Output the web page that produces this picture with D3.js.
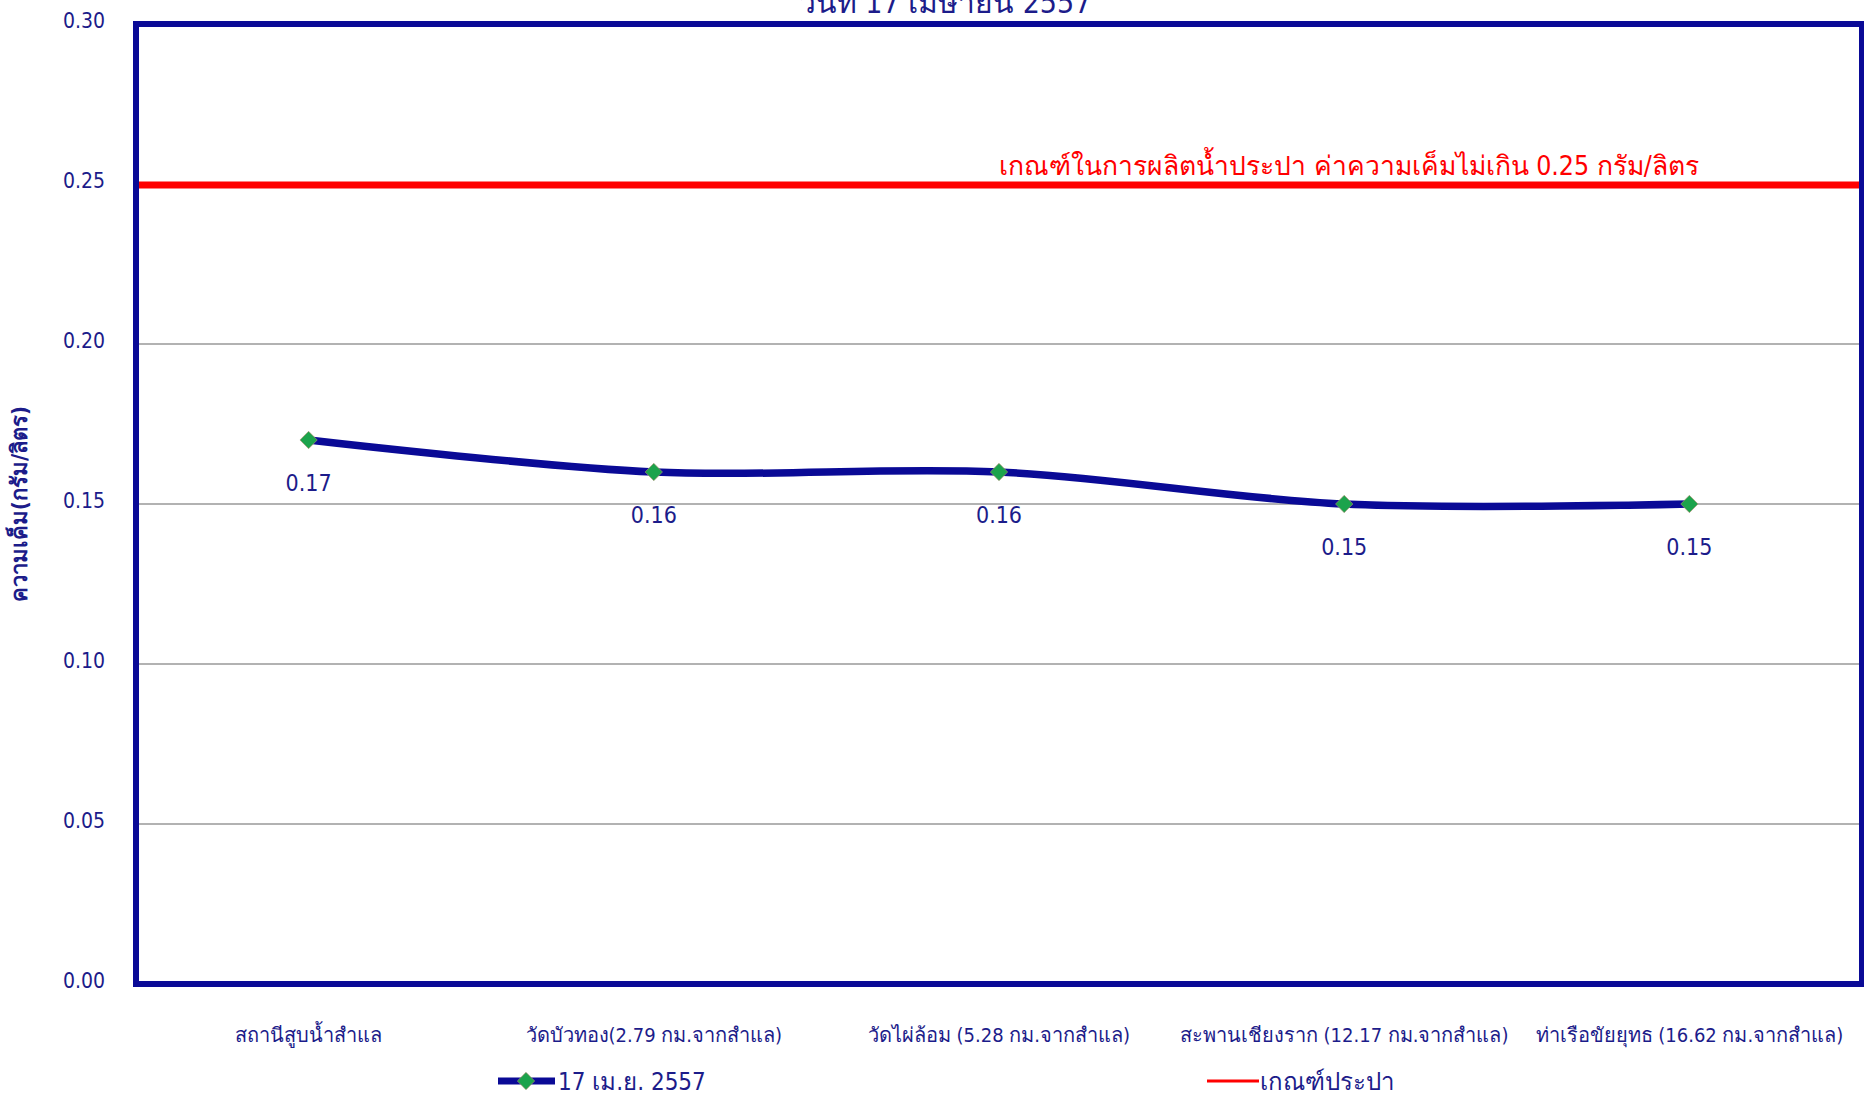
<!DOCTYPE html>
<html>
<head>
<meta charset="utf-8">
<script src="https://cdn.jsdelivr.net/npm/d3@7"></script>
<style>
    body { margin: 0; background: #fff; }
    text { font-family: "DejaVu Sans Condensed", "DejaVu Sans", sans-serif; }
</style>
</head>
<body>
<div id="chart"></div>
<script>
var chartTitle = "วันที่ 17 เมษายน 2557";
var yTitle = "ความเค็ม(กรัม/ลิตร)";
var categories = [
    "สถานีสูบน้ำสำแล",
    "วัดบัวทอง(2.79 กม.จากสำแล)",
    "วัดไผ่ล้อม (5.28 กม.จากสำแล)",
    "สะพานเชียงราก (12.17 กม.จากสำแล)",
    "ท่าเรือขัยยุทธ (16.62 กม.จากสำแล)"
];
var salinity = [0.17, 0.16, 0.16, 0.15, 0.15];
var seriesName = "17 เม.ย. 2557";
var standardValue = 0.25;
var standardName = "เกณฑ์ประปา";
var standardNote = "เกณฑ์ในการผลิตน้ำประปา ค่าความเค็มไม่เกิน 0.25 กรัม/ลิตร";
var yTicks = [0, 0.05, 0.10, 0.15, 0.20, 0.25, 0.30];

var W = 1864, H = 1095;
var margin = {top: 24, right: 2, bottom: 111, left: 136};
var navy = "#0a0a96", textNavy = "#1c1c8a";

var svg = d3.select("#chart").append("svg")
    .attr("width", W)
    .attr("height", H);

var x = d3.scaleBand()
    .domain(d3.range(categories.length))
    .range([margin.left, W - margin.right]);

var y = d3.scaleLinear()
    .domain([0, 0.30])
    .range([H - margin.bottom, margin.top]);

// gridlines
svg.append("g")
    .selectAll("line")
    .data(yTicks.filter(function (d) { return d > 0 && d < 0.3; }))
    .enter().append("line")
    .attr("x1", margin.left)
    .attr("x2", W - margin.right)
    .attr("y1", function (d) { return y(d); })
    .attr("y2", function (d) { return y(d); })
    .style("stroke", "#999999")
    .style("stroke-width", 1.5);

// y tick labels
var yAxis = d3.axisLeft(y)
    .tickValues(yTicks)
    .tickFormat(d3.format(".2f"))
    .tickSize(0)
    .tickPadding(31);

var yAxisG = svg.append("g")
    .attr("transform", "translate(" + margin.left + ",-3)")
    .call(yAxis);
yAxisG.select(".domain").remove();
yAxisG.selectAll("text")
    .style("font-size", "21px")
    .style("fill", textNavy);

// standard line
svg.append("line")
    .attr("x1", margin.left)
    .attr("x2", W - margin.right)
    .attr("y1", y(standardValue) + 1)
    .attr("y2", y(standardValue) + 1)
    .style("stroke", "#ff0000")
    .style("stroke-width", 7);

svg.append("text")
    .attr("x", 999)
    .attr("y", y(standardValue) - 9)
    .style("font-size", "26.5px")
    .style("fill", "#ff0000")
    .text(standardNote);

// plot border
svg.append("rect")
    .attr("x", margin.left)
    .attr("y", y(0.30))
    .attr("width", W - margin.right - margin.left)
    .attr("height", y(0) - y(0.30))
    .style("fill", "none")
    .style("stroke", navy)
    .style("stroke-width", 6);

// series line
var line = d3.line()
    .x(function (d, i) { return x(i) + x.bandwidth() / 2; })
    .y(function (d) { return y(d); })
    .curve(d3.curveCatmullRom.alpha(0));

svg.append("path")
    .datum(salinity)
    .attr("d", line)
    .style("fill", "none")
    .style("stroke", navy)
    .style("stroke-width", 7.5);

var diamond = d3.symbol().type(d3.symbolSquare).size(150);

svg.selectAll(".marker")
    .data(salinity)
    .enter().append("path")
    .attr("class", "marker")
    .attr("d", diamond)
    .attr("transform", function (d, i) {
        return "translate(" + (x(i) + x.bandwidth() / 2) + "," + y(d) + ") rotate(45)";
    })
    .style("fill", "#1ca34c")
    .style("stroke", "#b09070")
    .style("stroke-width", 0.6);

svg.selectAll(".data-label")
    .data(salinity)
    .enter().append("text")
    .attr("class", "data-label")
    .attr("x", function (d, i) { return x(i) + x.bandwidth() / 2; })
    .attr("y", function (d) { return y(d) + 51; })
    .attr("text-anchor", "middle")
    .style("font-size", "23px")
    .style("fill", textNavy)
    .text(function (d) { return d3.format(".2f")(d); });

// category labels
svg.selectAll(".cat-label")
    .data(categories)
    .enter().append("text")
    .attr("class", "cat-label")
    .attr("x", function (d, i) { return x(i) + x.bandwidth() / 2; })
    .attr("y", 1042)
    .attr("text-anchor", "middle")
    .style("font-size", "20px")
    .style("fill", textNavy)
    .text(function (d) { return d; });

// title (cut at top, as in the source)
svg.append("text")
    .attr("x", 945)
    .attr("y", 13)
    .attr("text-anchor", "middle")
    .style("font-size", "30px")
    .style("fill", textNavy)
    .text(chartTitle);

// y axis title
svg.append("text")
    .attr("transform", "translate(27," + y(0.15) + ") rotate(-90)")
    .attr("text-anchor", "middle")
    .style("font-size", "22px")
    .style("font-weight", "bold")
    .style("fill", textNavy)
    .text(yTitle);

// legend
var legend = svg.append("g").attr("class", "legend");

legend.append("line")
    .attr("x1", 498).attr("x2", 555)
    .attr("y1", 1081).attr("y2", 1081)
    .style("stroke", navy)
    .style("stroke-width", 7);

legend.append("path")
    .attr("d", diamond)
    .attr("transform", "translate(526,1081) rotate(45)")
    .style("fill", "#1ca34c")
    .style("stroke", "#b09070")
    .style("stroke-width", 0.6);

legend.append("text")
    .attr("x", 558)
    .attr("y", 1090)
    .style("font-size", "24px")
    .style("fill", textNavy)
    .text(seriesName);

legend.append("line")
    .attr("x1", 1207).attr("x2", 1259)
    .attr("y1", 1081).attr("y2", 1081)
    .style("stroke", "#ff0000")
    .style("stroke-width", 3);

legend.append("text")
    .attr("x", 1260)
    .attr("y", 1090)
    .style("font-size", "24px")
    .style("fill", textNavy)
    .text(standardName);
</script>
</body>
</html>
